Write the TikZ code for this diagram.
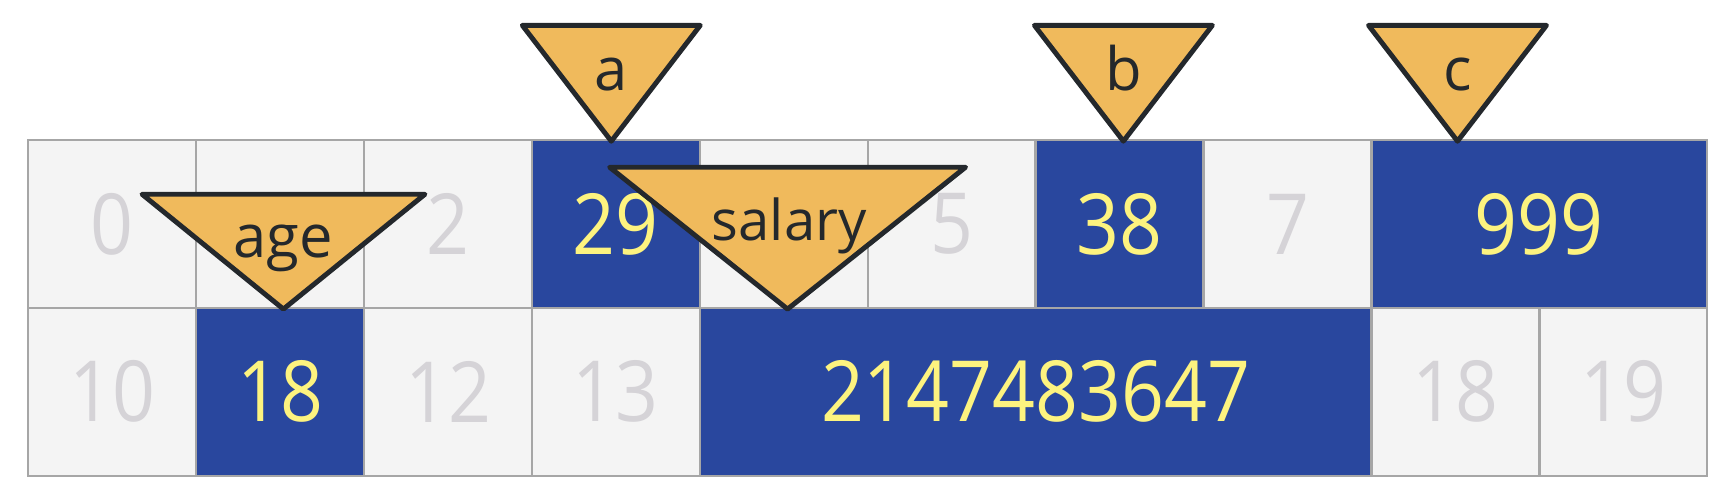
\documentclass[tikz,border=0pt]{standalone}
\usepackage{fontspec}
\setmainfont{Open Sans}
\newfontfamily\numfont[FakeStretch=0.89]{Open Sans}
\definecolor{cellgray}{HTML}{F4F4F4}
\definecolor{linegray}{HTML}{A6A6A6}
\definecolor{numgray}{HTML}{D5D3D7}
\definecolor{boxblue}{HTML}{29479E}
\definecolor{numyellow}{HTML}{FDF37F}
\definecolor{tagorange}{HTML}{F0BA5C}
\definecolor{tagline}{HTML}{24282C}
\begin{document}
\begin{tikzpicture}[x=1.679cm,y=1.679cm,
  cell/.style={draw=linegray,line width=0.7pt,fill=cellgray,anchor=south west,
    minimum width=1.679cm,minimum height=1.679cm,inner sep=0pt,
    text=numgray,font=\numfont\fontsize{24}{24}\selectfont},
  used/.style={fill=boxblue,text=numyellow},
  tag/.style={draw=tagline,fill=tagorange,line width=1.4pt,line join=round},
  taglabel/.style={anchor=base,text=tagline,font=\fontsize{17}{17}\selectfont}]
\useasboundingbox (-0.161,-0.155) rectangle (10.143,2.841);
% free cells
\foreach \i/\j/\t in {0/1/0,1/1/,2/1/2,4/1/,5/1/5,7/1/7,0/0/10,2/0/12,3/0/13,8/0/18,9/0/19}
  \node[cell] (g\i\j) at (\i,\j) {\t};
% occupied cells
\node[cell,used] (v29) at (3,1) {29};
\node[cell,used] (v38) at (6,1) {38};
\node[cell,used,minimum width=3.358cm] (v999) at (8,1) {999};
\node[cell,used] (v18) at (1,0) {18};
\node[cell,used,minimum width=6.716cm] (vmax) at (4,0) {2147483647};
% pointers
\draw[tag](2.95,2.69)--(4.01,2.69)--(3.48,2)--cycle;
\node[taglabel] (ta) at (3.48,2.30) {a};
\draw[tag](6.00,2.69)--(7.06,2.69)--(6.53,2)--cycle;
\node[taglabel] (tb) at (6.53,2.30) {b};
\draw[tag](7.99,2.69)--(9.05,2.69)--(8.52,2)--cycle;
\node[taglabel] (tc) at (8.52,2.30) {c};
\draw[tag](0.685,1.684)--(2.37,1.684)--(1.527,1)--cycle;
\node[taglabel] (tage) at (1.527,1.31) {age};
\draw[tag](3.47,1.845)--(5.59,1.845)--(4.53,1)--cycle;
\node[taglabel,font=\fontsize{16}{16}\selectfont] (tsalary) at (4.54,1.41) {salary};
\end{tikzpicture}
\end{document}
